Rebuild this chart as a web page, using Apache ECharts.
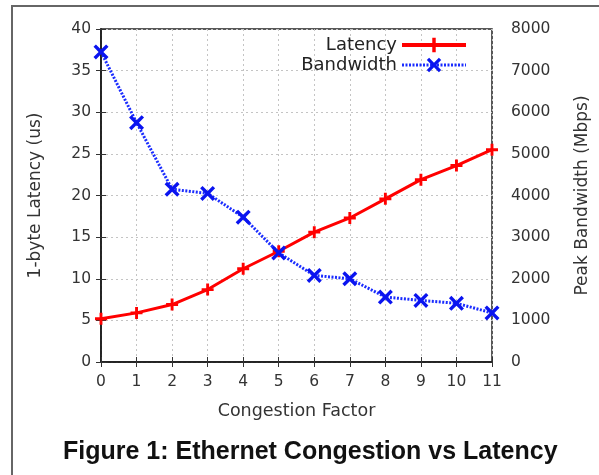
<!DOCTYPE html>
<html>
<head>
<meta charset="utf-8">
<script src="https://cdn.jsdelivr.net/npm/echarts@6/dist/echarts.min.js"></script>
<style>
html,body{margin:0;padding:0;background:#fff;}
#chart{width:599px;height:475px;}
</style>
</head>
<body>
<div id="chart"></div>
<script>
const congestion = [0,1,2,3,4,5,6,7,8,9,10,11];
const latency = [5.2,5.9,6.9,8.7,11.2,13.3,15.6,17.3,19.6,21.9,23.6,25.5];
const bandwidth = [7450,5750,4150,4050,3480,2620,2080,2000,1560,1480,1410,1180];
const xTicks = {min:0,max:11,interval:1};
const leftTicks = {min:0,max:40,interval:5};
const rightTicks = {min:0,max:8000,interval:1000};

const plusPath = 'path://M3.8,0H6.2V3.8H10V6.2H6.2V10H3.8V6.2H0V3.8H3.8Z';
const xPath = 'path://M0,1.6L1.6,0L5,3.4L8.4,0L10,1.6L6.6,5L10,8.4L8.4,10L5,6.6L1.6,10L0,8.4L3.4,5Z';

const font = 'DejaVu Sans, sans-serif';
const titleFont = 'Liberation Sans, Arial, sans-serif';
const chart = echarts.init(document.getElementById('chart'));
const tickStyle = {inside:true,length:5,lineStyle:{color:'#333',width:1}};
const gridLine = {show:true,lineStyle:{color:'#c4c4c4',type:[2,3],width:1}};
chart.setOption({
  animation:false,
  backgroundColor:'#fff',
  textStyle:{fontFamily:font},
  graphic:[{type:'rect',shape:{x:12,y:6,width:600,height:480},style:{fill:null,stroke:'#666',lineWidth:2},silent:true}],
  title:{text:'Figure 1: Ethernet Congestion vs Latency',left:58,top:435,
    textStyle:{fontFamily:titleFont,fontSize:25,fontWeight:'bold',color:'#111'}},
  legend:{orient:'vertical',right:126,top:31,align:'right',itemWidth:64,itemHeight:18,itemGap:2,
    textStyle:{fontFamily:font,fontSize:18,color:'#222'},
    data:[{name:'Latency',lineStyle:{width:4}},{name:'Bandwidth',lineStyle:{width:3}}]},
  grid:{left:101,right:107,top:29,bottom:113,show:true,borderColor:'#222',borderWidth:1.5,
    containLabel:false,outerBoundsMode:'none'},
  xAxis:[{type:'value',min:xTicks.min,max:xTicks.max,interval:xTicks.interval,
    name:'Congestion Factor',nameLocation:'middle',nameGap:40,
    nameTextStyle:{fontFamily:font,fontSize:17.5,color:'#333'},
    axisLine:{show:true,lineStyle:{color:'#222',width:1.5}},
    axisTick:tickStyle,
    axisLabel:{fontFamily:font,fontSize:15.5,color:'#333',margin:12},
    splitLine:gridLine},
   {type:'value',position:'top',min:xTicks.min,max:xTicks.max,interval:xTicks.interval,
    axisLine:{show:true,lineStyle:{color:'#222',width:1.5}},axisTick:tickStyle,axisLabel:{show:false},splitLine:{show:false}}],
  yAxis:[{type:'value',min:leftTicks.min,max:leftTicks.max,interval:leftTicks.interval,
    name:'1-byte Latency (us)',nameLocation:'middle',nameGap:57,nameRotate:90,
    nameTextStyle:{fontFamily:font,fontSize:17,color:'#333'},
    axisLine:{show:true,lineStyle:{color:'#222',width:1.5}},axisTick:tickStyle,
    axisLabel:{fontFamily:font,fontSize:15.5,color:'#333',margin:10},
    splitLine:gridLine},
   {type:'value',position:'right',min:rightTicks.min,max:rightTicks.max,interval:rightTicks.interval,
    name:'Peak Bandwidth (Mbps)',nameLocation:'middle',nameGap:82,nameRotate:90,
    nameTextStyle:{fontFamily:font,fontSize:17,color:'#333'},
    axisLine:{show:true,lineStyle:{color:'#222',width:1.5}},axisTick:tickStyle,
    axisLabel:{fontFamily:font,fontSize:15.5,color:'#333',margin:19,formatter:v=>String(v)},
    splitLine:{show:false}}],
  series:[
    {name:'Latency',type:'line',xAxisIndex:0,yAxisIndex:0,
     data:congestion.map((c,i)=>[c,latency[i]]),
     symbol:plusPath,symbolSize:12,showAllSymbol:true,
     lineStyle:{color:'#ff0000',width:3},itemStyle:{color:'#ff0000'},z:3},
    {name:'Bandwidth',type:'line',xAxisIndex:0,yAxisIndex:1,
     data:congestion.map((c,i)=>[c,bandwidth[i]]),
     symbol:xPath,symbolSize:15,showAllSymbol:true,
     lineStyle:{color:'#1a2cff',width:3,type:[2,1.5]},itemStyle:{color:'#0a14f0'},z:4}
  ]
});
</script>
</body>
</html>
